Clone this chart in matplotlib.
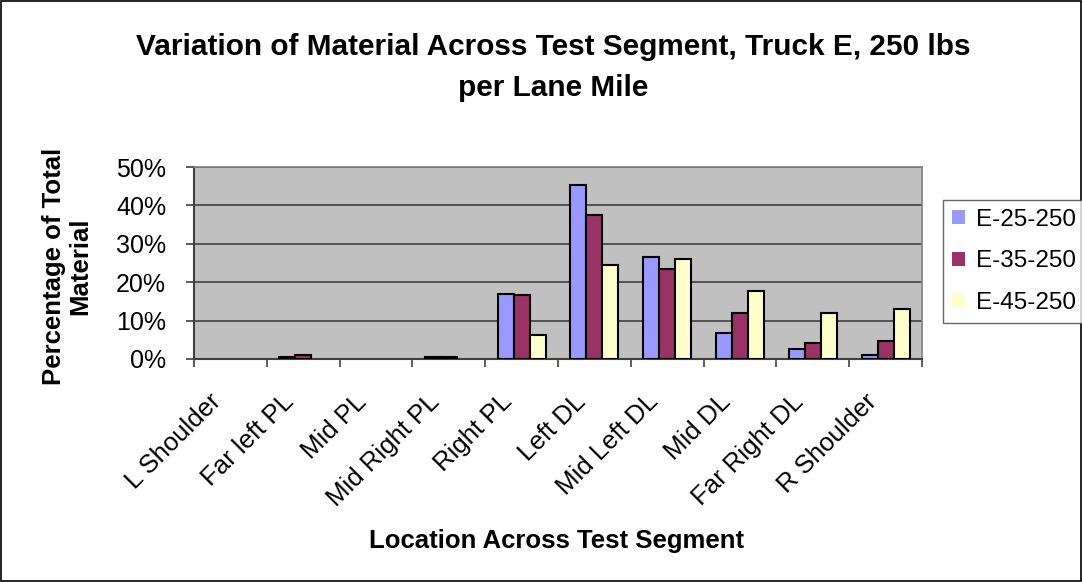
import matplotlib.pyplot as plt
import matplotlib.transforms as mtransforms
import numpy as np
from matplotlib.ticker import PercentFormatter
from matplotlib.patches import Rectangle

plt.rcParams['font.family'] = ['Liberation Sans', 'DejaVu Sans']

categories = ['L Shoulder', 'Far left PL', 'Mid PL', 'Mid Right PL', 'Right PL',
              'Left DL', 'Mid Left DL', 'Mid DL', 'Far Right DL', 'R Shoulder']
e25 = [0, 0.4, 0, 0.4, 17.0, 45.2, 26.5, 6.7, 2.5, 1.0]
e35 = [0, 1.0, 0, 0.4, 16.6, 37.4, 23.4, 11.9, 4.2, 4.6]
e45 = [0, 0, 0, 0, 6.2, 24.4, 26.0, 17.6, 11.9, 12.9]
series = ['E-25-250', 'E-35-250', 'E-45-250']
colors = ['#9999FF', '#993366', '#FFFFCC']

fig = plt.figure(figsize=(10.82, 5.82), dpi=100)
# plot area in pixel coords: left 194, right 922, top 167, bottom 359
ax = fig.add_axes([194 / 1082, 1 - 359 / 582, 728 / 1082, 192 / 582])
ax.set_facecolor('#C0C0C0')

x = np.arange(len(categories))
w = 0.22
for i, (vals, name, c) in enumerate(zip([e25, e35, e45], series, colors)):
    bars = ax.bar(x + (i - 1) * w, vals, w, color=c, edgecolor='black',
                  linewidth=1.5, label=name, zorder=3)
    for b, v in zip(bars, vals):
        if v == 0:
            b.set_linewidth(0)

ax.set_xlim(-0.5, len(categories) - 0.5)
ax.set_ylim(0, 50)
ax.set_yticks(range(0, 51, 10))
ax.yaxis.set_major_formatter(PercentFormatter(decimals=0))
ax.grid(axis='y', color='#404040', linewidth=1.2, zorder=0)
ax.set_xticks(np.arange(-0.5, len(categories), 1))
ax.set_xticklabels([])
ax.set_xticks(x, minor=True)
ax.set_xticklabels(categories, minor=True, rotation=45, ha='right', va='baseline',
                   rotation_mode='anchor', fontsize=18.5)
ax.tick_params(axis='x', which='minor', length=0, pad=0)
ax.tick_params(axis='x', which='major', length=6, width=1.2, color='#404040')
ax.tick_params(axis='y', length=6, width=1.2, color='#404040', labelsize=18, pad=14)
offset = mtransforms.ScaledTranslation(-8 / 100, -44 / 100, fig.dpi_scale_trans)
for lbl in ax.get_xticklabels(minor=True):
    lbl.set_transform(lbl.get_transform() + offset)
for s in ['top', 'right']:
    ax.spines[s].set_color('#808080')
    ax.spines[s].set_linewidth(1.2)
for s in ['left', 'bottom']:
    ax.spines[s].set_color('#404040')
    ax.spines[s].set_linewidth(1.5)

fig.text(553 / 1082, 1 - 47 / 582,
         'Variation of Material Across Test Segment, Truck E, 250 lbs',
         ha='center', va='center', fontsize=21.4, fontweight='bold')
fig.text(553 / 1082, 1 - 88 / 582, 'per Lane Mile',
         ha='center', va='center', fontsize=21.4, fontweight='bold')
fig.text(67 / 1082, 1 - 266 / 582, 'Percentage of Total\nMaterial', rotation=90,
         ha='center', va='center', fontsize=18.5, fontweight='bold',
         multialignment='center', linespacing=1.1)
fig.text(557 / 1082, 1 - 541 / 582, 'Location Across Test Segment',
         ha='center', va='center', fontsize=18.5, fontweight='bold')

leg = fig.legend(loc='upper left', bbox_to_anchor=(943 / 1082, 1 - 200 / 582),
                 fontsize=17.5, frameon=True, fancybox=False, edgecolor='#404040',
                 handlelength=0.55, handleheight=0.55, handletextpad=0.45,
                 labelspacing=0.82, borderpad=0.35, borderaxespad=0)
leg.get_frame().set_linewidth(1.0)

fig.patches.append(Rectangle((0.001, 0.002), 0.998, 0.996, transform=fig.transFigure,
                             fill=False, edgecolor='black', linewidth=1.2))

fig.savefig('out.png', dpi=100)
